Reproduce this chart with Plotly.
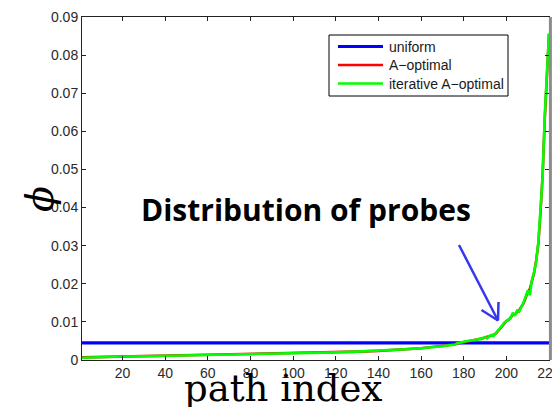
import plotly.graph_objects as go

# ---- data ----
path_index = [1, 10, 20, 30, 40, 50, 60, 70, 80, 90,
              100, 110, 120, 130, 140, 150, 155, 160, 165, 170,
              172, 174, 176, 177, 178, 180, 182, 184, 186, 187,
              188, 189, 190, 191, 192, 193, 194, 195, 196, 197,
              198, 199, 200, 201, 202, 203, 204, 205, 206, 207,
              208, 209, 210, 211, 212, 213, 214, 215, 216, 217,
              218, 219, 220]

a_optimal = [0.0007, 0.0008, 0.0009, 0.0010, 0.0011, 0.0012, 0.0013, 0.0014, 0.0015, 0.0016,
             0.0017, 0.0019, 0.0020, 0.0022, 0.0024, 0.0027, 0.0029, 0.0031, 0.0034, 0.0036,
             0.0038, 0.0040, 0.0042, 0.0044, 0.0046, 0.0048, 0.0050, 0.0052, 0.0053, 0.0055,
             0.0056, 0.0057, 0.0059, 0.0060, 0.0062, 0.0064, 0.0066, 0.0069, 0.0075, 0.0082,
             0.0090, 0.0097, 0.0102, 0.0105, 0.0111, 0.0118, 0.0120, 0.0126, 0.0131, 0.0140,
             0.0148, 0.0162, 0.0178, 0.0186, 0.0205, 0.0228, 0.0262, 0.0305, 0.0385, 0.0485,
             0.0630, 0.0755, 0.0855]

iterative_a_optimal = [0.0006, 0.0008, 0.0009, 0.0010, 0.0011, 0.0012, 0.0013, 0.0014, 0.0015, 0.0016,
                       0.0017, 0.0018, 0.0020, 0.0022, 0.0024, 0.0027, 0.0029, 0.0031, 0.0033, 0.0036,
                       0.0038, 0.0039, 0.0040, 0.0044, 0.0046, 0.0048, 0.0050, 0.0051, 0.0053, 0.0055,
                       0.0054, 0.0058, 0.0060, 0.0057, 0.0063, 0.0066, 0.0063, 0.0070, 0.0076, 0.0083,
                       0.0090, 0.0098, 0.0103, 0.0106, 0.0110, 0.0124, 0.0116, 0.0130, 0.0127, 0.0138,
                       0.0150, 0.0166, 0.0182, 0.0170, 0.0210, 0.0230, 0.0258, 0.0310, 0.0390, 0.0480,
                       0.0640, 0.0760, 0.0857]

uniform_x = [1, 220]
uniform_value = [0.0045, 0.0045]

series_names = ["uniform", "A−optimal", "iterative A−optimal"]
series_colors = ["rgb(0,0,255)", "rgb(255,0,0)", "rgb(0,255,0)"]

x_ticks = [20, 40, 60, 80, 100, 120, 140, 160, 180, 200, 220]
y_ticks = [0, 0.01, 0.02, 0.03, 0.04, 0.05, 0.06, 0.07, 0.08, 0.09]
y_tick_labels = ["0", "0.01", "0.02", "0.03", "0.04", "0.05", "0.06", "0.07", "0.08", "0.09"]

# ---- layout geometry (pixels) ----
W, H = 552, 407
ML, MR, MT, MB = 82, 3, 17, 47
PW, PH = W - ML - MR, H - MT - MB


def px(x):
    return (x - ML) / PW


def py(y):
    return (H - MB - y) / PH


fig = go.Figure()
fig.add_trace(go.Scatter(x=uniform_x, y=uniform_value, mode="lines", name=series_names[0],
                         showlegend=False, line=dict(color=series_colors[0], width=3.2)))
fig.add_trace(go.Scatter(x=path_index, y=a_optimal, mode="lines", name=series_names[1],
                         showlegend=False, line=dict(color=series_colors[1], width=2.6)))
fig.add_trace(go.Scatter(x=path_index, y=iterative_a_optimal, mode="lines", name=series_names[2],
                         showlegend=False, line=dict(color=series_colors[2], width=2.6)))

axis_font = dict(family="Liberation Sans, Arial, sans-serif", size=14, color="#2a2a2a")

fig.update_xaxes(range=[1, 220], tickvals=x_ticks, ticks="inside", ticklen=4, tickcolor="#222",
                 showline=True, linecolor="#222", linewidth=1, mirror="ticks", automargin=False,
                 ticklabeloverflow="allow",
                 showgrid=False, zeroline=False, tickfont=axis_font)
fig.update_yaxes(range=[0, 0.09], tickvals=y_ticks, ticktext=y_tick_labels, ticks="inside",
                 ticklen=4, tickcolor="#222", showline=True, linecolor="#222", linewidth=1,
                 mirror="ticks", automargin=False, showgrid=False, zeroline=False, tickfont=axis_font,
                 ticklabeloverflow="allow")

arrow_color = "rgb(55,55,240)"
shapes = [
    # right border of the plot box (greyish)
    dict(type="line", xref="paper", yref="paper", x0=1.003, x1=1.003, y0=0, y1=1,
         line=dict(color="#8c8c8c", width=3)),
    # callout arrow
    dict(type="line", xref="paper", yref="paper", x0=px(459), y0=py(245), x1=px(498), y1=py(320.5),
         line=dict(color=arrow_color, width=2.5)),
    dict(type="line", xref="paper", yref="paper", x0=px(498), y0=py(320.5), x1=px(481.5), y1=py(310),
         line=dict(color=arrow_color, width=2.5)),
    dict(type="line", xref="paper", yref="paper", x0=px(498), y0=py(320.5), x1=px(498.5), y1=py(302),
         line=dict(color=arrow_color, width=2.5)),
    # legend box
    dict(type="rect", xref="paper", yref="paper", x0=px(329), x1=px(508), y0=py(96), y1=py(35),
         fillcolor="white", line=dict(color="black", width=1)),
]

annotations = [
    dict(text="Distribution of probes", xref="paper", yref="paper", x=px(306), y=py(209),
         xanchor="center", yanchor="middle", showarrow=False,
         font=dict(family="Open Sans, Lato, sans-serif", size=30, color="black", weight="bold")),
    dict(text="path index", xref="paper", yref="paper", x=px(283), y=py(388),
         xanchor="center", yanchor="middle", showarrow=False,
         font=dict(family="DejaVu Serif, serif", size=37, color="black")),
    dict(text="ϕ", xref="paper", yref="paper", x=px(40), y=py(199), textangle=-90,
         xanchor="center", yanchor="middle", showarrow=False,
         font=dict(family="DejaVu Serif, serif", size=38, color="black", style="italic")),
]

# legend entries (drawn to match the reference's long line samples)
legend_rows = [46.5, 65.0, 83.5]
legend_widths = [3, 2.5, 2.5]
for name, color, row, lw in zip(series_names, series_colors, legend_rows, legend_widths):
    shapes.append(dict(type="line", xref="paper", yref="paper", x0=px(338), x1=px(383),
                       y0=py(row), y1=py(row), line=dict(color=color, width=lw)))
    annotations.append(dict(text=name, xref="paper", yref="paper", x=px(387), y=py(row),
                            xanchor="left", yanchor="middle", showarrow=False,
                            font=dict(family="Liberation Sans, Arial, sans-serif", size=14,
                                      color="#1a1a1a")))

fig.update_layout(
    width=W, height=H,
    margin=dict(l=ML, r=MR, t=MT, b=MB, pad=0, autoexpand=False),
    paper_bgcolor="white", plot_bgcolor="white",
    showlegend=False,
    shapes=shapes,
    annotations=annotations,
)

fig.write_html("out.html", config={"displayModeBar": False},
               post_script="document.body.style.margin='0';document.body.style.overflow='hidden';")
